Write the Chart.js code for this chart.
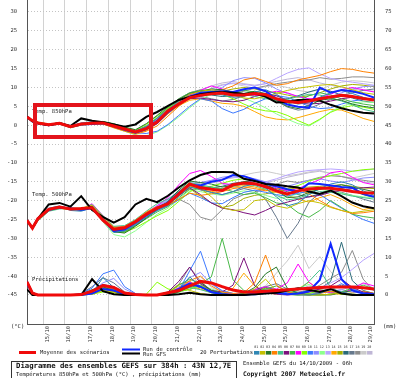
<!DOCTYPE html>
<html>
<head>
<meta charset="utf-8">
<script src="https://cdn.jsdelivr.net/npm/chart.js@4.4.1/dist/chart.umd.min.js"></script>
<style>
html,body{margin:0;padding:0;background:#fff;}
canvas{display:block;}
</style>
</head>
<body>
<canvas id="gefs" width="400" height="378"></canvas>
<script>
// --- DATA ---
const HOURS = [0,6,12,24,36,48,60,72,84,96,108,120,132,144,156,168,180,192,204,216,228,240,252,264,276,288,300,312,324,336,348,360,372,384];
const TICK_HOURS = [18,42,66,90,114,138,162,186,210,234,258,282,306,330,354,376];
const DAY_LABELS = ["15/10","16/10","17/10","18/10","19/10","20/10","21/10","22/10","23/10","24/10","25/10","25/10","26/10","27/10","28/10","29/10"];
const LEFT_TICKS = [-45,-40,-35,-30,-25,-20,-15,-10,-5,0,5,10,15,20,25,30];
const RIGHT_TICKS = [0,5,10,15,20,25,30,35,40,45,50,55,60,65,70,75];

const PERT_COLORS = ["#2f86b4","#c4c000","#26782a","#ff8000","#44c08a","#7c107c","#48b848","#ff00ff","#84ff00","#3c78ff",
                     "#8c8cff","#8cff8c","#b8a4ff","#ffa800","#a4b000","#2a6a78","#66788c","#8c8c8c","#cacaca","#bfb6d6"];

// T850 (°C)
const MEAN_850 = [2.2,1.2,0.6,0.1,0.5,-0.4,0.3,0.5,0.6,-0.2,-1.0,-1.8, -0.9,0.8,3.8,5.6,7.3, 7.9,8.3,8.5,8.0,8.0, 8.4,8.1,7.0,6.3,6.0, 6.4,7.0,7.5,7.9,7.6, 7.1,6.7];
const GFS_850  = [2.2,1.0,0.5,0.0,0.6,-0.2,1.8,1.2,0.8,0.2,-0.4,0.2, 2.2,3.5,5.1,6.7,7.5, 8.2,8.6,8.8,8.6,8.3, 8.5,7.6,6.0,6.2,6.7, 6.7,6.5,5.4,4.5,3.8, 3.3,3.1];
const CTRL_850 = [2.2,1.0,0.5,0.0,0.5,-0.5,0.2,0.3,0.5,-0.3,-1.2,-2.0, -1.0,0.6,3.4,5.6,7.5, 8.6,8.8,9.0,8.8,9.5, 10.0,9.0,7.0,5.5,4.9, 4.6,10.0,8.6,9.3,9.0, 8.3,7.3];
const PERT_850 = [
  [2.2,1.0,0.4,0.0,0.6,-0.2,0.6,0.9,0.8,0.0,-0.9,-1.6, -0.4,1.8,4.2,6.4,7.8, 8.4,8.6,8.0,7.4,7.6, 8.8,9.4,8.2,6.4,5.6, 6.0,7.4,8.6,9.2,8.4, 7.4,6.6],
  [2.2,1.3,0.8,0.3,0.4,-0.7,0.0,0.3,0.4,-0.5,-1.4,-2.2, -1.0,1.0,3.6,6.2,8.2, 9.0,9.4,8.8,8.0,7.2, 7.0,7.6,8.4,9.2,9.8, 10.2,10.6,10.8,10.2,9.4, 8.6,8.2],
  [2.2,1.2,0.5,-0.1,0.3,-0.5,0.4,0.7,1.0,0.4,-0.5,-1.2, 0.4,2.6,5.0,6.8,8.4, 9.0,9.6,9.4,8.8,8.4, 9.0,8.4,6.6,5.0,4.4, 5.2,6.6,7.0,6.6,5.6, 5.0,4.6],
  [2.2,1.1,0.7,0.2,0.7,-0.3,0.2,0.4,0.3,-0.7,-1.6,-2.4, -1.6,-0.2,2.4,5.0,7.2, 8.2,8.6,9.4,10.4,12.0, 12.6,11.6,10.6,11.0,12.0, 12.6,13.2,14.2,15.0,14.8, 14.2,13.8],
  [2.2,1.2,0.6,0.2,0.5,-0.4,0.3,0.6,0.5,-0.3,-1.1,-1.9, -1.2,0.6,3.4,5.8,7.4, 8.0,8.2,8.4,8.6,8.2, 7.6,7.0,6.6,6.8,7.6, 8.2,8.0,7.2,6.4,5.4, 4.2,3.6],
  [2.2,1.0,0.5,0.1,0.6,-0.2,0.5,0.6,0.4,-0.4,-1.3,-2.0, -0.8,1.4,4.0,6.0,7.0, 7.2,6.8,6.4,6.2,6.6, 7.6,8.4,7.8,6.6,6.0, 5.6,5.8,6.4,7.0,7.4, 7.0,6.6],
  [2.2,1.3,0.7,0.0,0.4,-0.6,0.1,0.4,0.7,0.1,-0.8,-1.5, -0.2,2.0,4.8,7.0,8.6, 9.2,9.0,8.6,8.8,9.2, 8.8,7.6,6.2,5.6,6.4, 7.8,8.6,8.0,7.0,6.2, 5.6,5.2],
  [2.2,1.2,0.7,0.2,0.6,-0.3,0.4,0.5,0.7,0.0,-0.8,-1.7, -0.6,1.2,3.8,6.2,8.0, 9.2,10.4,9.6,8.6,8.0, 7.8,8.4,9.0,8.6,7.6, 7.0,7.2,8.2,9.4,10.0, 9.4,8.8],
  [2.2,1.1,0.4,0.1,0.5,-0.5,0.2,0.7,0.9,0.3,-0.6,-1.3, 0.2,2.4,4.6,6.4,7.6, 8.4,8.8,8.2,7.0,5.6, 4.4,3.8,3.6,2.6,1.2, 0.0,1.6,3.4,4.6,5.2, 4.8,4.2],
  [2.2,1.2,0.5,0.0,0.4,-0.5,0.3,0.5,0.6,-0.2,-1.1,-2.0, -2.2,-1.6,0.2,2.6,5.0, 7.0,6.4,4.4,3.2,4.2, 5.8,7.0,7.8,7.4,6.2, 5.0,4.4,4.6,5.6,6.4, 6.8,7.0],
  [2.2,1.3,0.6,0.2,0.7,-0.2,0.5,0.8,0.6,-0.3,-1.2,-2.0, -1.0,1.0,3.4,5.6,7.0, 7.8,8.6,10.0,11.8,12.6, 12.4,11.2,9.6,8.4,7.6, 7.0,6.6,7.4,8.6,9.6, 10.2,10.4],
  [2.2,1.0,0.5,0.1,0.3,-0.6,0.1,0.3,0.4,-0.6,-1.6,-2.6, -2.8,-1.8,0.0,2.2,4.6, 6.8,8.2,8.6,8.2,7.2, 6.0,4.6,3.0,1.6,0.4, -0.2,1.4,3.6,5.0,5.8, 6.2,6.0],
  [2.2,1.2,0.6,0.2,0.5,-0.4,0.4,0.6,0.8,0.2,-0.6,-1.4, -0.2,1.6,4.0,6.2,7.8, 8.8,9.6,10.6,11.2,10.8, 10.4,11.0,12.4,13.8,14.8, 15.2,13.6,12.4,11.8,11.4, 11.0,10.6],
  [2.2,1.1,0.6,0.0,0.5,-0.5,0.2,0.4,0.5,-0.4,-1.3,-2.2, -1.4,0.4,3.0,5.2,6.6, 7.0,6.4,5.8,5.6,5.0, 3.6,2.2,1.6,1.4,2.0, 2.8,3.6,4.2,4.0,3.0, 1.8,1.0],
  [2.2,1.3,0.8,0.3,0.6,-0.3,0.3,0.5,0.3,-0.5,-1.2,-1.8, -0.6,1.6,4.4,6.6,8.0, 8.6,8.8,9.0,9.6,10.0, 9.6,9.0,8.6,8.0,7.4, 7.8,8.6,9.6,10.4,10.8, 10.6,10.2],
  [2.2,1.2,0.5,0.1,0.4,-0.5,0.3,0.5,0.7,-0.1,-1.0,-1.8, -1.0,0.8,3.6,6.0,7.6, 8.2,8.0,7.6,7.8,8.4, 8.2,7.4,6.8,7.0,7.8, 8.8,9.6,9.0,8.0,7.2, 6.4,6.0],
  [2.2,1.0,0.4,0.0,0.6,-0.3,0.4,0.7,0.6,-0.2,-1.0,-1.7, -0.8,1.2,3.8,6.0,7.4, 7.6,7.0,6.4,6.8,7.8, 8.6,8.0,6.4,4.8,4.0, 4.4,5.6,6.8,7.8,8.6, 9.2,9.6],
  [2.2,1.2,0.6,0.2,0.5,-0.4,0.2,0.5,0.6,-0.1,-0.9,-1.6, -0.4,1.8,4.6,7.0,8.6, 9.4,9.2,8.6,8.4,9.0, 9.8,10.4,11.0,11.4,11.8, 12.0,12.6,12.2,12.4,12.8, 12.8,12.6],
  [2.2,1.1,0.7,0.2,0.4,-0.6,0.1,0.4,0.5,-0.3,-1.2,-2.0, -1.2,0.4,3.2,5.6,7.4, 8.4,9.8,10.8,11.0,10.4, 9.8,10.2,10.6,10.0,9.2, 8.8,9.4,10.6,11.4,11.8, 11.6,11.2],
  [2.2,1.3,0.7,0.1,0.5,-0.4,0.3,0.6,0.7,-0.1,-0.9,-1.6, -0.6,1.4,4.0,6.4,8.2, 9.4,10.4,11.2,11.6,11.0, 10.6,11.0,11.6,12.2,12.6, 12.0,11.2,10.6,10.0,9.6, 9.2,9.0]
];

// T500 (°C)
const MEAN_500 = [-25.2,-27.3,-24.8,-22.3,-21.7,-22.2,-22.1,-21.9,-25.2,-27.6,-27.2,-25.6, -23.6,-22.0,-20.8,-18.2,-15.6, -16.6,-17.0,-17.3,-15.8,-15.3, -15.5,-16.3,-17.4,-18.2,-17.4, -16.9,-16.7,-16.7,-17.1,-17.6, -17.9,-18.0];
const GFS_500  = [-25.2,-27.3,-24.8,-21.0,-20.6,-21.6,-18.8,-22.5,-24.3,-25.8,-24.4,-21.0, -19.5,-20.4,-18.7,-16.5,-14.6, -13.2,-12.4,-12.4,-12.5,-14.2, -14.8,-15.6,-15.8,-16.2,-16.5, -17.6,-18.2,-17.3,-18.8,-20.5, -21.5,-22.0];
const CTRL_500 = [-25.2,-27.3,-24.8,-22.5,-21.8,-22.0,-22.4,-22.0,-25.0,-28.0,-27.6,-25.8, -23.8,-22.0,-20.5,-18.0,-15.8, -16.0,-15.0,-14.5,-13.2,-13.5, -14.5,-15.5,-16.2,-17.0,-17.6, -15.4,-15.6,-16.0,-16.4,-16.6, -18.2,-19.0];
const PERT_500 = [
  [-25.2,-27.1,-24.6,-22.0,-21.4,-22.6,-22.8,-21.9,-25.4,-28.4,-28.0,-26.2, -24.4,-22.6,-21.2,-18.8,-16.4, -17.0,-17.8,-18.4,-17.6,-16.2, -15.6,-16.6,-19.0,-21.4,-20.6, -18.4,-16.8,-15.6,-15.0,-15.8, -17.4,-18.6],
  [-25.2,-27.4,-25.2,-22.6,-22.0,-22.4,-22.0,-21.2,-24.2,-27.0,-27.2,-25.4, -23.2,-21.8,-20.4,-18.0,-16.0, -16.8,-19.0,-21.8,-22.6,-22.4, -20.0,-19.6,-21.4,-22.0,-20.8, -20.0,-20.6,-21.8,-22.6,-23.2, -22.8,-22.4],
  [-25.2,-27.2,-24.8,-22.4,-21.6,-22.0,-22.6,-21.6,-25.0,-28.2,-28.6,-26.8, -24.6,-22.4,-20.2,-17.2,-14.8, -15.2,-15.6,-16.4,-16.0,-15.0, -14.6,-15.8,-17.2,-19.2,-19.0, -17.8,-17.0,-16.2,-15.8,-16.4, -17.0,-17.6],
  [-25.2,-27.3,-25.0,-22.2,-21.8,-22.4,-22.2,-21.8,-24.6,-27.2,-26.8,-25.2, -23.0,-21.6,-21.2,-19.6,-18.0, -18.6,-18.2,-17.6,-16.8,-16.4, -16.8,-17.4,-17.0,-16.2,-16.8, -18.2,-20.0,-21.6,-22.6,-23.4, -23.2,-22.8],
  [-25.2,-27.5,-25.4,-22.8,-22.2,-22.0,-22.4,-21.0,-24.0,-26.8,-26.6,-25.0, -22.8,-20.8,-19.6,-17.6,-15.2, -15.8,-16.4,-17.0,-16.2,-15.6, -16.0,-17.0,-18.6,-19.8,-19.4, -18.2,-17.6,-17.8,-18.2,-18.8, -19.2,-19.6],
  [-25.2,-27.0,-24.8,-22.2,-21.6,-22.2,-22.4,-21.4,-25.2,-28.0,-27.8,-26.0, -24.0,-22.2,-20.6,-18.6,-16.6, -18.4,-20.6,-22.0,-22.4,-23.2, -23.8,-22.6,-21.2,-20.4,-19.6, -19.0,-18.6,-17.8,-17.2,-16.8, -16.6,-16.4],
  [-25.2,-27.3,-25.1,-22.5,-21.8,-22.1,-22.2,-21.6,-24.6,-27.8,-28.2,-26.6, -24.8,-23.0,-21.6,-19.2,-17.0, -16.8,-16.4,-16.8,-17.6,-18.4, -18.0,-19.2,-20.6,-21.0,-23.2, -24.4,-22.6,-20.0,-21.8,-23.6, -24.2,-24.6],
  [-25.2,-27.2,-24.9,-22.1,-21.5,-22.3,-22.5,-20.8,-24.0,-27.0,-27.0,-25.4, -23.2,-21.4,-19.2,-15.8,-12.8, -12.0,-13.6,-15.4,-15.8,-15.2, -14.6,-15.4,-16.6,-17.4,-16.8, -15.6,-14.4,-12.6,-12.2,-13.8, -15.2,-15.8],
  [-25.2,-27.4,-25.2,-22.6,-21.8,-22.0,-22.0,-21.4,-24.8,-28.0,-28.4,-27.2, -25.6,-24.0,-22.6,-20.2,-17.6, -16.6,-16.2,-15.4,-14.6,-14.2, -14.8,-15.6,-16.2,-16.8,-16.0, -14.8,-14.0,-13.4,-12.8,-12.2, -11.8,-11.6],
  [-25.2,-27.2,-25.0,-22.4,-21.7,-22.3,-22.4,-21.7,-25.0,-28.2,-28.0,-26.4, -24.2,-22.6,-21.4,-19.8,-18.0, -19.2,-20.6,-20.8,-19.2,-17.8, -17.2,-17.8,-18.4,-18.8,-18.0, -17.6,-18.4,-20.2,-22.0,-23.6, -25.0,-26.0],
  [-25.2,-27.3,-25.0,-22.3,-21.6,-22.2,-22.2,-21.2,-24.4,-27.2,-27.0,-25.6, -23.6,-21.6,-20.0,-17.6,-15.4, -15.2,-14.6,-13.8,-13.4,-13.6, -14.2,-15.0,-15.8,-16.2,-15.4, -14.6,-14.2,-14.8,-15.2,-14.6, -14.0,-13.8],
  [-25.2,-27.5,-25.3,-22.7,-22.0,-22.4,-22.6,-22.0,-25.6,-29.0,-29.6,-28.0, -25.8,-23.6,-22.0,-19.6,-17.2, -17.6,-18.2,-18.6,-18.0,-17.4, -17.8,-18.6,-19.4,-19.0,-18.2, -17.4,-17.0,-17.4,-18.0,-18.6, -19.0,-19.2],
  [-25.2,-27.1,-24.8,-22.2,-21.6,-22.1,-22.3,-21.4,-24.6,-27.4,-27.2,-25.6, -23.4,-21.4,-19.6,-17.4,-15.8, -15.2,-14.8,-14.2,-13.8,-14.0, -14.6,-15.0,-14.2,-13.2,-12.4, -12.0,-11.8,-11.6,-11.8,-12.2, -12.0,-11.6],
  [-25.2,-27.4,-25.1,-22.3,-21.9,-22.2,-22.1,-21.3,-24.7,-27.6,-27.6,-26.0, -24.0,-22.2,-20.8,-18.4,-16.2, -17.0,-17.6,-17.2,-16.4,-16.0, -16.4,-17.2,-17.8,-18.6,-19.6, -20.4,-19.2,-18.4,-19.6,-21.2, -22.4,-21.8],
  [-25.2,-27.2,-24.9,-22.2,-21.7,-22.3,-22.3,-21.6,-24.9,-27.7,-27.5,-25.9, -23.9,-22.1,-20.8,-18.6,-16.8, -18.8,-20.6,-21.8,-21.2,-19.4, -18.6,-18.2,-17.6,-17.0,-16.6, -16.4,-16.2,-16.0,-15.8,-16.2, -16.6,-16.8],
  [-25.2,-27.3,-25.0,-22.4,-21.8,-22.2,-22.4,-21.8,-25.2,-28.4,-28.2,-26.4, -24.2,-22.4,-21.0,-18.8,-16.4, -16.2,-16.6,-16.2,-15.4,-15.0, -15.4,-16.0,-16.8,-17.6,-18.4, -19.0,-18.2,-17.2,-16.8,-17.4, -18.4,-19.2],
  [-25.2,-27.2,-25.0,-22.2,-21.6,-22.0,-22.2,-21.4,-24.6,-27.4,-27.4,-25.8, -23.8,-22.0,-20.8,-18.2,-16.0, -17.2,-17.8,-18.4,-17.6,-16.8, -17.4,-19.6,-24.4,-30.0,-26.0, -20.4,-18.0,-17.2,-17.8,-18.6, -19.6,-20.4],
  [-25.2,-27.4,-25.2,-22.4,-21.8,-22.4,-22.6,-21.8,-25.2,-28.2,-28.4,-26.6, -24.6,-22.6,-21.2,-19.6,-21.0, -24.4,-25.2,-22.4,-19.6,-18.4, -17.8,-16.8,-15.6,-14.8,-15.2, -14.6,-13.8,-13.4,-13.6,-14.2, -14.6,-15.0],
  [-25.2,-27.3,-25.1,-22.3,-21.7,-22.2,-22.3,-21.5,-24.8,-27.6,-27.4,-25.8, -23.8,-22.0,-20.6,-18.2,-16.2, -15.6,-15.0,-14.4,-14.0,-13.2, -12.6,-12.2,-12.8,-13.4,-13.0, -12.4,-12.0,-12.8,-13.6,-14.0, -13.4,-12.8],
  [-25.2,-27.1,-24.9,-22.2,-21.6,-22.0,-22.2,-21.3,-24.4,-27.0,-26.8,-25.2, -23.2,-21.2,-19.8,-17.8,-16.0, -15.4,-15.0,-15.6,-16.4,-16.8, -16.0,-15.2,-14.6,-13.8,-13.2, -12.6,-12.2,-12.8,-13.6,-14.4, -15.0,-15.4]
];

// precipitations (mm)
const MEAN_PR = [3.5,0.5,0,0,0,0,0.1,1.0,2.5,2.0,0.5,0.1, 0,0,0.6,1.2,2.4, 3.6,3.2,2.2,1.3,0.8, 0.8,1.0,1.2,1.4,1.6, 1.8,2.0,2.1,2.1,2.1, 1.9,1.6];
const GFS_PR  = [1.5,0,0,0,0,0,0,4.2,1.0,0.2,0,0, 0,0,0,0.2,0.6, 0.2,0,0,0,0, 0.2,0.4,0.6,1.2,1.8, 1.4,0.8,1.6,0.4,0, 0,0];
const CTRL_PR = [3.0,0.4,0,0,0,0,0,0.4,1.6,1.2,0.2,0, 0,0,0.4,1.6,3.0, 2.2,0.8,0.2,0,0, 0.4,0.8,0.6,0.2,0.4, 1.0,4.0,13.6,4.2,1.2, 0.4,0.2];
const PERT_PR = [
  [3.0,0.2,0,0,0,0,0,0.5,4.6,2.0,0.2,0, 0,0,0,1.4,4.8, 2.2,0.6,0.2,0,0, 0.4,1.2,0.6,0.2,0, 0,0.4,1.6,0.8,0.2, 0,0],
  [3.2,0.4,0,0,0,0,0,0.2,1.2,0.8,0,0, 0,0,0.6,2.4,1.2, 0.4,0,0,0,0.2, 1.6,4.2,1.0,0.2,0, 0,0,0.2,0.6,0.2, 0,0],
  [3.6,0.6,0,0,0,0,0.2,1.4,2.2,1.0,0,0, 0,0,0,0.8,2.2, 3.4,1.2,0.4,0,0.4, 2.0,5.6,7.4,1.8,0.4, 0,0,0,0.6,1.2, 0.4,0],
  [3.4,0.2,0,0,0,0,0,0.6,1.8,0.8,0,0, 0,0,0.4,1.6,3.8, 5.0,2.4,0.8,0.4,0.6, 3.2,10.6,2.6,0.8,0.2, 0,0.4,1.0,0.6,0.2, 0,0],
  [3.0,0.4,0,0,0,0,0,0.4,1.4,1.0,0.2,0, 0,0,0.2,1.0,2.0, 1.4,0.6,0.2,0,0, 0.6,1.4,0.8,0.2,1.2, 3.6,6.6,2.0,0.6,0.2, 0,0],
  [3.8,0.8,0,0,0,0,0,1.2,2.8,2.2,0.6,0, 0,0,0.8,3.6,7.4, 3.0,1.2,0.8,2.6,9.8, 2.4,0.6,0.2,0,0.2, 0.8,1.6,2.4,4.2,2.0, 0.8,0.4],
  [3.2,0.4,0,0,0,0,0,0.8,2.0,1.4,0.2,0, 0,0,0.6,2.6,4.2, 3.0,4.8,15.0,4.0,1.2, 0.8,1.6,2.4,1.0,0.4, 0.2,0,0.2,0.8,1.8, 2.6,1.6],
  [3.4,0.6,0,0,0,0,0.2,0.6,1.6,1.2,0,0, 0,0,0.4,1.8,3.4, 2.2,0.8,0.4,0.2,0.6, 1.4,2.2,1.6,3.2,8.2, 3.4,1.2,0.6,0.4,1.6, 3.2,2.4],
  [3.0,0.2,0,0,0,0,0,0.2,0.8,0.6,0,0, 0.2,3.4,1.6,1.0,1.4, 2.6,1.2,0.4,0,0.2, 0.8,1.2,0.6,0.2,0, 0.4,1.2,0.8,0.2,0, 0,0],
  [3.6,0.6,0,0,0,0,0.4,1.8,5.6,6.6,2.2,0.4, 0,0,0.2,1.2,6.4, 11.6,3.2,1.0,0.4,0.2, 0,0.4,1.0,0.6,0.2, 0,0.6,1.4,3.0,1.6, 0.6,0.2],
  [3.4,0.4,0,0,0,0,0.2,1.0,3.2,4.4,1.6,0.2, 0,0,0.4,2.0,4.6, 6.0,2.8,1.2,0.4,0, 0.2,0.6,1.2,0.8,0.4, 0.2,0.6,1.0,1.4,0.8, 0.4,0.2],
  [3.2,0.2,0,0,0,0,0,0.4,1.2,1.0,0.2,0, 0,0,0,0.6,1.8, 2.4,1.6,0.6,0.2,0, 0.4,0.8,0.4,0.6,1.8, 2.8,1.2,0.4,0.8,1.6, 0.6,0.2],
  [3.6,0.6,0,0,0,0,0,0.8,2.2,1.8,0.4,0, 0,0,0.2,1.0,2.6, 3.0,1.4,0.6,0.2,0, 0.2,0.6,1.0,0.6,0.2, 0.6,1.8,3.2,4.6,6.8, 9.2,11.0],
  [3.0,0.4,0,0,0,0,0,0.4,1.2,0.8,0,0, 0,0,0.4,1.4,2.2, 1.6,0.6,0.2,1.8,5.8, 2.4,0.6,0.2,0.4,1.6, 3.4,1.2,0.4,0.2,0.6, 1.0,0.4],
  [3.2,0.4,0,0,0,0,0,0.6,1.6,1.2,0.2,0, 0,0,0.6,2.8,3.6, 2.0,0.8,0.4,0.2,0.4, 1.0,1.8,1.2,0.6,0.4, 0.8,1.4,0.8,0.4,0.2, 0,0],
  [3.4,0.6,0,0,0,0,0,0.6,1.8,1.6,0.4,0, 0,0,0.2,1.2,2.4, 2.0,0.8,0.4,0.2,0.4, 1.2,2.0,1.4,0.6,0.4, 1.0,1.6,3.6,14.0,3.8, 1.2,0.4],
  [3.6,0.8,0,0,0,0,0.4,2.2,4.6,3.2,0.8,0, 0,0,0.2,0.8,1.6, 2.6,1.4,0.6,0.2,0.6, 1.4,2.2,3.0,1.6,0.6, 0.4,0.8,1.4,2.6,1.6, 0.6,0.4],
  [3.2,0.4,0,0,0,0,0.2,0.8,2.0,1.2,0.2,0, 0,0,0.6,2.8,7.4, 3.6,1.2,0.6,0.2,0.4, 0.8,1.2,0.8,0.4,0.8, 1.2,2.6,4.4,6.0,11.8, 4.2,1.0],
  [3.0,0.2,0,0,0,0,0,0.4,1.0,0.8,0,0, 0,0,0.2,1.0,2.2, 4.8,2.0,0.8,0.4,0.6, 1.4,2.4,5.8,9.0,13.2, 7.0,10.2,6.2,3.0,1.2, 0.6,0.2],
  [3.4,0.6,0,0,0,0,0,0.6,1.4,1.0,0.2,0, 0,0,0.4,1.4,2.6, 2.2,1.0,0.4,0.2,0.4, 1.0,1.6,1.2,0.8,1.4, 2.4,1.6,0.8,1.4,2.2, 3.0,1.8]
];

// --- FONTS ---
const MONO = '"DejaVu Sans Mono", monospace';
const FONT_S = '5.5px ' + MONO;

// --- DATASETS ---
const datasets = [];
function pts(vals){ return HOURS.map((h,i)=>({x:h, y:vals[i]})); }
function addLine(vals, color, width, axis, order){
  datasets.push({data: pts(vals), borderColor: color, borderWidth: width, yAxisID: axis,
                 order: order, pointRadius: 0, tension: 0, fill: false});
}
[[PERT_850,'y'],[PERT_500,'y'],[PERT_PR,'yR']].forEach(([set,axis])=>{
  set.forEach((vals,i)=> addLine(vals, PERT_COLORS[i], 1, axis, 10));
});
addLine(CTRL_850,'#1028ff',2,'y',3); addLine(CTRL_500,'#1028ff',2,'y',3); addLine(CTRL_PR,'#1028ff',2,'yR',3);
addLine(GFS_850,'#000',2,'y',2);     addLine(GFS_500,'#000',2,'y',2);     addLine(GFS_PR,'#000',2,'yR',2);
addLine(MEAN_850,'#f00a0a',3,'y',1); addLine(MEAN_500,'#f00a0a',3,'y',1); addLine(MEAN_PR,'#f00a0a',3,'yR',1);

// --- TEXTS, LEGEND, ANNOTATION ---
const decor = {
  id: 'decor',
  beforeDatasetsDraw(chart){
    const ctx = chart.ctx;
    ctx.save();
    ctx.fillStyle = '#222';
    ctx.font = FONT_S;
    ctx.textBaseline = 'alphabetic';
    ctx.fillText('Temp. 850hPa', 32, 113);
    ctx.fillText('Temp. 500hPa', 32, 196);
    ctx.fillText('Précipitations', 32, 281);
    ctx.restore();
  },
  afterDraw(chart){
    const ctx = chart.ctx;
    ctx.save();
    ctx.fillStyle = '#222';
    ctx.font = FONT_S;
    ctx.textBaseline = 'middle';
    ctx.fillText('(°C)', 11, 327);
    ctx.fillText('(mm)', 383, 327);

    // legend lines
    ctx.lineWidth = 3; ctx.strokeStyle = '#f00a0a';
    ctx.beginPath(); ctx.moveTo(19,352.5); ctx.lineTo(36,352.5); ctx.stroke();
    ctx.lineWidth = 2; ctx.strokeStyle = '#1028ff';
    ctx.beginPath(); ctx.moveTo(122,349.5); ctx.lineTo(140,349.5); ctx.stroke();
    ctx.strokeStyle = '#000';
    ctx.beginPath(); ctx.moveTo(122,353.5); ctx.lineTo(140,353.5); ctx.stroke();
    ctx.fillText('Moyenne des scénarios', 40, 352.5);
    ctx.fillText('Run de contrôle', 143, 349.5);
    ctx.fillText('Run GFS', 143, 354.5);
    ctx.fillText('20 Perturbations', 200, 352.5);

    // swatches 01..20
    PERT_COLORS.forEach((c,i)=>{
      const x = 254 + i*5.95;
      ctx.fillStyle = c;
      ctx.fillRect(x, 351, 5.4, 3.6);
      ctx.fillStyle = '#333';
      ctx.font = '3.4px ' + MONO;
      ctx.fillText(String(i+1).padStart(2,'0'), x+0.2, 347.5);
    });

    // caption box
    ctx.strokeStyle = '#333'; ctx.lineWidth = 1;
    ctx.strokeRect(11.5, 361.5, 225, 20);
    ctx.save();
    ctx.beginPath(); ctx.rect(12, 362, 224, 16); ctx.clip();
    ctx.fillStyle = '#111';
    ctx.textBaseline = 'alphabetic';
    ctx.font = 'bold 7.3px ' + MONO;
    ctx.fillText('Diagramme des ensembles GEFS sur 384h : 43N 12,7E', 16, 367.5);
    ctx.font = FONT_S;
    ctx.fillText('Températures 850hPa et 500hPa (°C) , précipitations (mm)', 16, 375.5);
    ctx.restore();

    ctx.fillStyle = '#111';
    ctx.textBaseline = 'alphabetic';
    ctx.font = FONT_S;
    ctx.fillText('Ensemble GEFS du 14/10/2009 - 06h', 243, 364.5);
    ctx.font = 'bold 6.3px ' + MONO;
    ctx.fillText('Copyright 2007 Meteociel.fr', 243, 376);

    // red hand annotation
    ctx.strokeStyle = '#e3141c'; ctx.lineWidth = 4;
    ctx.strokeRect(35, 105, 116, 32);
    ctx.restore();
  }
};

// --- CHART ---
new Chart(document.getElementById('gefs'), {
  type: 'line',
  data: { datasets },
  plugins: [decor],
  options: {
    responsive: false,
    animation: false,
    devicePixelRatio: 1,
    layout: { padding: 0 },
    plugins: { legend: {display:false}, tooltip: {enabled:false} },
    scales: {
      x: {
        type: 'linear', min: 0, max: 384,
        afterBuildTicks: s => { s.ticks = TICK_HOURS.map(v=>({value:v})); },
        afterFit: s => { s.height = 54; s.paddingLeft = 0; s.paddingRight = 0; },
        ticks: { autoSkip:false, minRotation:90, maxRotation:90, padding:2, labelOffset:4,
                 color:'#333', font:{family:MONO, size:5.5}, callback:(v,i)=>DAY_LABELS[i] },
        grid: { color: c => c.index === TICK_HOURS.length-1 ? 'rgba(0,0,0,0)' : '#d2d2d2', drawTicks:false },
        border: { color:'#555', width:1 }
      },
      y: {
        position: 'left', min: -52.69, max: 33.18,
        afterBuildTicks: s => { s.ticks = LEFT_TICKS.map(v=>({value:v})); },
        afterFit: s => { s.width = 27; s.paddingTop = 0; s.paddingBottom = 0; },
        ticks: { padding:10, color:'#333', font:{family:MONO, size:5.5} },
        grid: { color:'#c4c4c4', drawTicks:false },
        border: { color:'#555', width:1, dash:[1,2] }
      },
      yR: {
        position: 'right', min: -7.69, max: 78.18,
        afterBuildTicks: s => { s.ticks = RIGHT_TICKS.map(v=>({value:v})); },
        afterFit: s => { s.width = 26; s.paddingTop = 0; s.paddingBottom = 0; },
        ticks: { padding:11, color:'#333', font:{family:MONO, size:5.5} },
        grid: { drawOnChartArea:false, drawTicks:false },
        border: { color:'#555', width:1 }
      }
    }
  }
});
</script>
</body>
</html>
